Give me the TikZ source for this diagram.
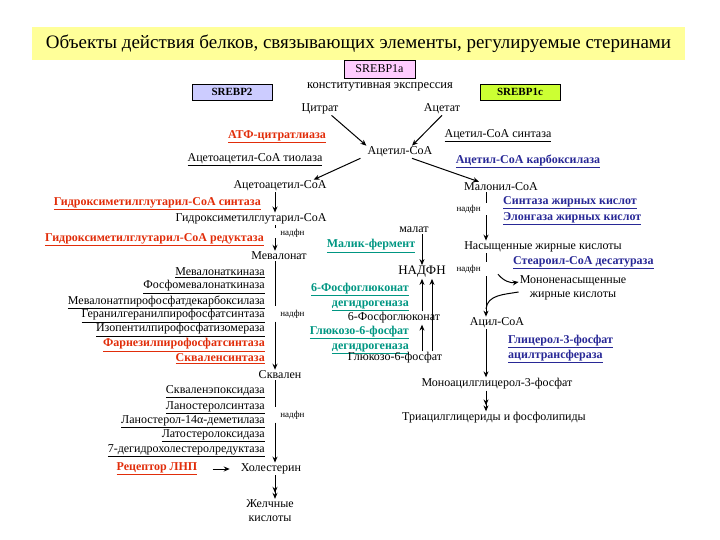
\documentclass[tikz,border=0pt]{standalone}
\usepackage{fontspec}
\setmainfont{Liberation Serif}
\usetikzlibrary{positioning, arrows.meta, calc}
\definecolor{enzred}{RGB}{225,45,10}
\definecolor{enzblue}{RGB}{40,40,150}
\definecolor{enzteal}{RGB}{0,150,130}
\definecolor{titlebg}{RGB}{255,255,153}
\definecolor{srebpa}{RGB}{255,204,255}
\definecolor{srebpb}{RGB}{204,204,255}
\definecolor{srebpc}{RGB}{204,255,51}
\newcommand{\enz}[1]{\underline{#1}}
\tikzset{
  metab/.style={inner sep=1pt, font=\fontsize{12}{14}\selectfont},
  enzyme/.style={inner sep=1pt, font=\fontsize{12}{14.5}\selectfont},
  enzred/.style={inner sep=1pt, text=enzred, font=\bfseries\fontsize{12}{14.5}\selectfont},
  enzblue/.style={inner sep=1pt, text=enzblue, font=\bfseries\fontsize{12}{14.5}\selectfont},
  enzteal/.style={inner sep=1pt, text=enzteal, font=\bfseries\fontsize{12}{14.5}\selectfont},
  cofactor/.style={inner sep=1pt, font=\fontsize{9}{10}\selectfont},
  gap/.style={inner sep=0pt, minimum width=0pt},
  srebp/.style={rectangle, draw=black, line width=0.6pt, minimum height=16pt, inner sep=1pt, font=\fontsize{12}{13}\selectfont}
}

\begin{document}
\begin{tikzpicture}[x=1pt, y=-1pt,
        line/.style={line width=1pt},
        arrow/.style={line width=1pt,->,>={Stealth[length=6pt,width=5pt]}},
        darrow/.style={line width=1pt,->>,>={Stealth[length=6pt,width=5pt]}}]
        \path[use as bounding box] (0,0) rectangle (720,540);

        % Заголовок и SREBP
        \node (title) [fill=titlebg, minimum width=653pt, minimum height=33pt, font=\fontsize{19}{21}\selectfont] at (358.5,43.5) {Объекты действия белков, связывающих элементы, регулируемые стеринами};
        \node (srebp1a) [srebp, fill=srebpa, minimum width=71pt, minimum height=18pt] at (379.5,69) {SREBP1a};
        \node (express) [inner sep=1pt, font=\fontsize{12.5}{13}\selectfont] at (380,87) {конститутивная экспрессия};
        \node (srebp2) [srebp, fill=srebpb, minimum width=80pt, font=\bfseries\fontsize{11}{12}\selectfont] at (232,92) {SREBP2};
        \node (srebp1c) [srebp, fill=srebpc, minimum width=80pt, font=\bfseries\fontsize{11}{12}\selectfont] at (520,92) {SREBP1c};

        % Ацетил-СоА
        \node (citrate) [metab] at (320,109) {Цитрат};
        \node (acetate) [metab] at (442,109) {Ацетат};
        \node (accoa) [metab] at (400,152) {Ацетил-СоА};
        \node (acl) [enzred] at (277,137) {\enz{АТФ-цитратлиаза}};
        \node (thiol) [enzyme] at (255,160) {\enz{Ацетоацетил-СоА тиолаза}};
        \node (acs) [enzyme] at (498,136) {\enz{Ацетил-СоА синтаза}};
        \node (acc) [enzblue] at (528,161) {\enz{Ацетил-СоА карбоксилаза}};
        \node (acac) [metab] at (280,186) {Ацетоацетил-СоА};
        \node (malonyl) [metab] at (501,187) {Малонил-СоА};
        \draw [arrow] ([xshift=-8pt]citrate.south east) -- (accoa.north west);
        \draw [arrow] (acetate.south) -- ([xshift=12pt]accoa.north);
        \draw [arrow] ([xshift=-6pt]accoa.south west) -- ([xshift=-14pt]acac.north east);
        \draw [arrow] ([xshift=12pt]accoa.south) -- ([xshift=-22pt]malonyl.north);

        % Левая колонка - синтез холестерина
        \coordinate (lcol) at (275,0);
        \node (hmgs) [enzred, anchor=east] at (262,204) {\enz{Гидроксиметилглутарил-СоА синтаза}};
        \node (hmgcoa) [metab] at (251,219) {Гидроксиметилглутарил-СоА};
        \node (hmgr) [enzred, anchor=east] at (265,240) {\enz{Гидроксиметилглутарил-СоА редуктаза}};
        \node (gapa) [gap, minimum height=10pt, label={[cofactor, label distance=4pt]right:надфн}] at (275,233) {};
        \node (mevalon) [metab] at (279,256) {Мевалонат};
        \draw [arrow] (acac.south -| lcol) -- (hmgcoa.north -| lcol);
        \draw [line] (hmgcoa.south -| lcol) -- (gapa.north);
        \draw [arrow] (gapa.south) -- (mevalon.north -| lcol);

        \node (mvk) [enzyme, anchor=east] at (266,273) {\enz{Мевалонаткиназа}};
        \node (pmvk) [enzyme, anchor=east] at (266,287) {\enz{Фосфомевалонаткиназа}};
        \node (mvd) [enzyme, anchor=east] at (266,302) {\enz{Мевалонатпирофосфатдекарбоксилаза}};
        \node (ggps) [enzyme, anchor=east] at (266,316) {\enz{Геранилгеранилпирофосфатсинтаза}};
        \node (idi) [enzyme, anchor=east] at (266,330) {\enz{Изопентилпирофосфатизомераза}};
        \node (fps) [enzred, anchor=east] at (266,345) {\enz{Фарнезилпирофосфатсинтаза}};
        \node (sqs) [enzred, anchor=east] at (266,359) {\enz{Скваленсинтаза}};
        \node (gapb) [gap, minimum height=15pt, label={[cofactor, label distance=4pt]right:надфн}] at (275,314) {};
        \node (squal) [metab] at (280,375) {Сквален};
        \draw [line] (mevalon.south -| lcol) -- (gapb.north);
        \draw [arrow] (gapb.south) -- (squal.north -| lcol);

        \node (sqe) [enzyme, anchor=east] at (266,392) {\enz{Скваленэпоксидаза}};
        \node (lss) [enzyme, anchor=east] at (266,408) {\enz{Ланостеролсинтаза}};
        \node (cyp) [enzyme, anchor=east] at (266,422) {\enz{Ланостерол-14α-деметилаза}};
        \node (sc5d) [enzyme, anchor=east] at (266,436) {\enz{Латостеролоксидаза}};
        \node (dhcr) [enzyme, anchor=east] at (266,451) {\enz{7-дегидрохолестеролредуктаза}};
        \node (gapc) [gap, minimum height=15pt, label={[cofactor, label distance=4pt]right:надфн}] at (275,415) {};
        \node (chol) [metab] at (271,469) {Холестерин};
        \node (ldlr) [enzred] at (157,469) {\enz{Рецептор ЛНП}};
        \node (bile) [metab, align=center] at (270,511) {Желчные\\кислоты};
        \draw [line] (squal.south -| lcol) -- (gapc.north);
        \draw [arrow] (gapc.south) -- (chol.north -| lcol);
        \draw [arrow, shorten <=14pt, shorten >=10pt] (ldlr) -- (chol);
        \draw [darrow] (chol.south -| lcol) -- (bile.north -| lcol);

        % Средняя колонка - НАДФН
        \coordinate (mcola) at (422,0);
        \coordinate (mcolb) at (432,0);
        \node (malate) [metab] at (414,230) {малат};
        \node (malic) [enzteal] at (371,246) {\enz{Малик-фермент}};
        \node (nadph) [inner sep=1pt, font=\fontsize{13}{15}\selectfont] at (422,272) {НАДФН};
        \node (pgd) [enzteal, anchor=east, align=right] at (410,297) {\enz{6-Фосфоглюконат}\\\enz{дегидрогеназа}};
        \node (pgluc) [metab] at (394,318) {6-Фосфоглюконат};
        \node (g6pd) [enzteal, anchor=east, align=right] at (410,340) {\enz{Глюкозо-6-фосфат}\\\enz{дегидрогеназа}};
        \node (g6p) [metab] at (395,358) {Глюкозо-6-фосфат};
        \draw [arrow] (malate.south -| mcola) -- (nadph.north -| mcola);
        \draw [arrow] (pgluc.north -| mcola) -- (nadph.south -| mcola);
        \draw [arrow] (g6p.north -| mcola) -- (pgluc.south -| mcola);
        \draw [arrow] (g6p.north -| mcolb) -- (nadph.south -| mcolb);

        % Правая колонка - синтез жирных кислот
        \coordinate (rcol) at (486,0);
        \node (gapd) [gap, minimum height=12pt, label={[cofactor, label distance=4pt]left:надфн}] at (486,209) {};
        \node (fas) [enzblue, anchor=west] at (502,203) {\enz{Синтаза жирных кислот}};
        \node (elovl) [enzblue, anchor=west] at (502,219) {\enz{Элонгаза жирных кислот}};
        \node (satfa) [metab] at (543,247) {Насыщенные жирные кислоты};
        \draw [line] (malonyl.south -| rcol) -- (gapd.north);
        \draw [arrow] (gapd.south) -- (satfa.north -| rcol);

        \node (gape) [gap, minimum height=14pt, label={[cofactor, label distance=4pt]left:надфн}] at (486,269) {};
        \node (scd) [enzblue, anchor=west] at (512,263) {\enz{Стеароил-СоА десатураза}};
        \node (mufa) [metab, align=center] at (573,288) {Мононенасыщенные\\жирные кислоты};
        \node (acylcoa) [metab] at (497,323) {Ацил-СоА};
        \coordinate (join) at (486,309);
        \draw [line] (satfa.south -| rcol) -- (gape.north);
        \draw [arrow] (gape.south) -- (acylcoa.north -| rcol);
        \draw [arrow] ([xshift=12pt,yshift=2pt]gape.south) to[bend right=30] ([yshift=6pt]mufa.west);
        \draw [line] ([yshift=-4pt]mufa.west) to[out=190, in=85] (join);

        \node (gpat) [enzblue, anchor=west, align=left] at (507,349) {\enz{Глицерол-3-фосфат}\\\enz{ацилтрансфераза}};
        \node (monoacyl) [metab] at (497,384) {Моноацилглицерол-3-фосфат};
        \node (tag) [metab] at (494,418) {Триацилглицериды и фосфолипиды};
        \draw [arrow] (acylcoa.south -| rcol) -- (monoacyl.north -| rcol);
        \draw [darrow] (monoacyl.south -| rcol) -- (tag.north -| rcol);
\end{tikzpicture}
\end{document}
